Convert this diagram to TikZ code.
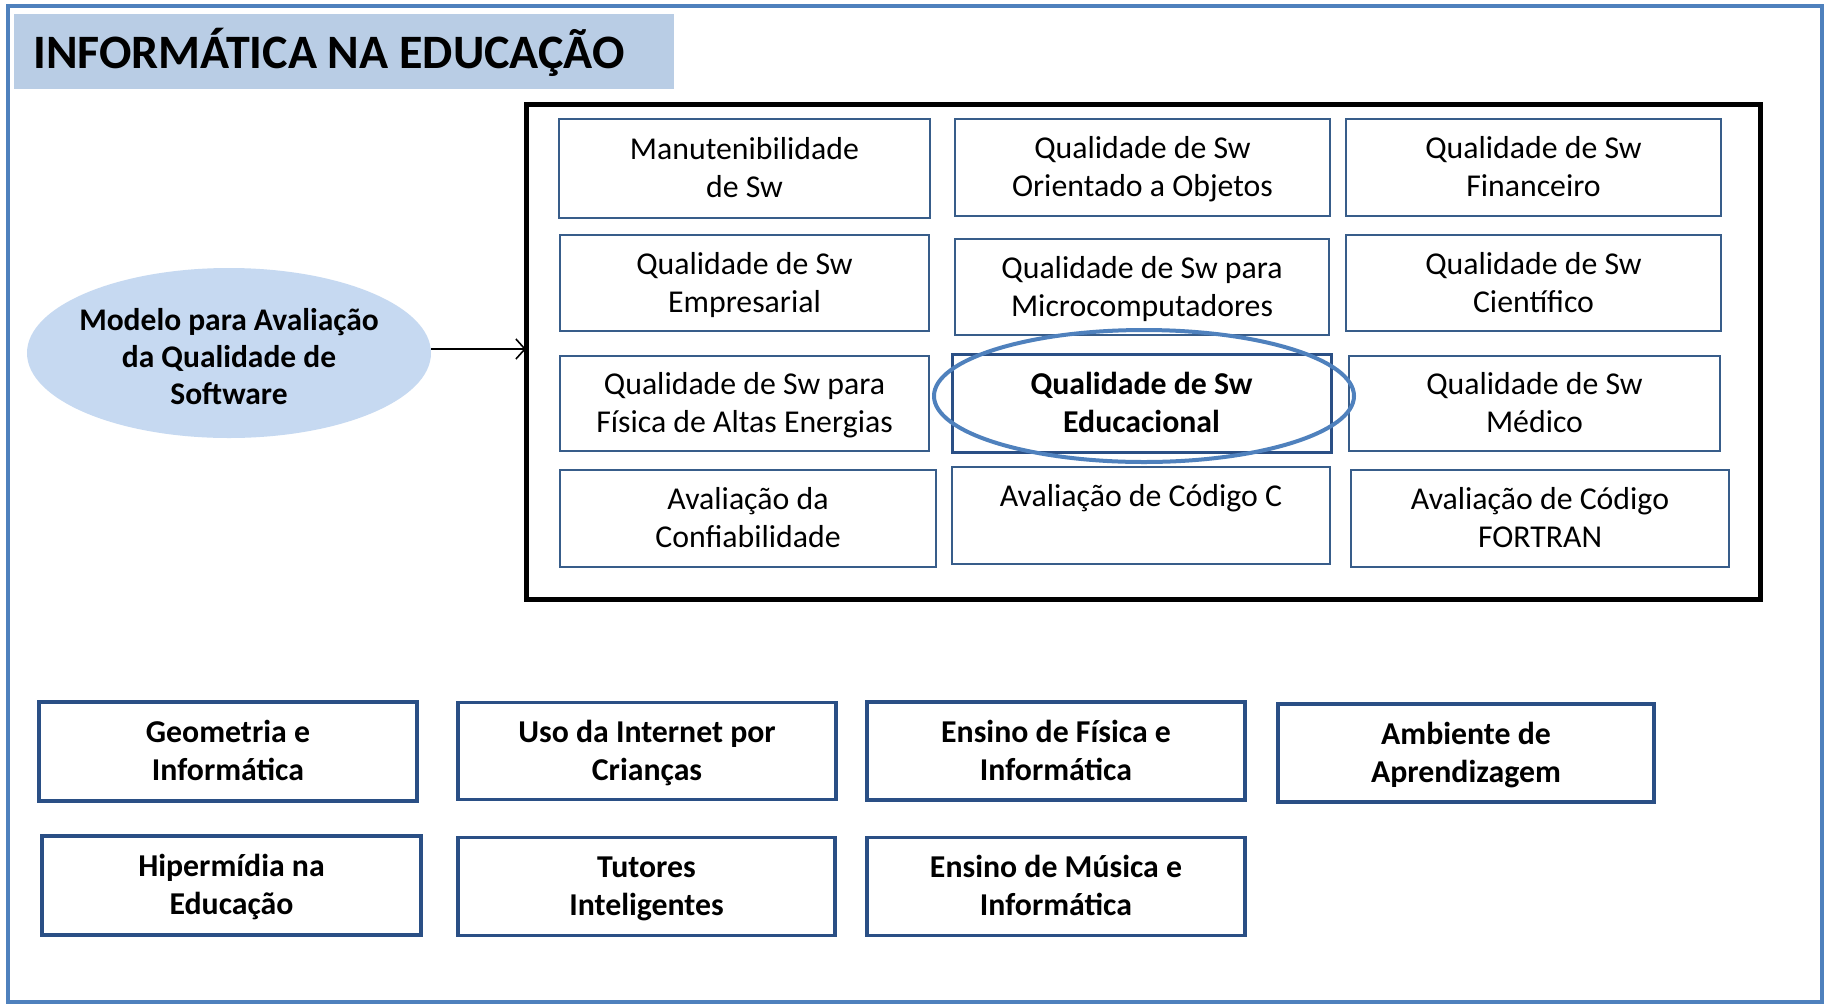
\documentclass[tikz,border=0pt]{standalone}
\usepackage{fontspec}
\setmainfont{Carlito}
\usetikzlibrary{arrows.meta,shapes.geometric}
\definecolor{frameblue}{HTML}{4F81BD}
\definecolor{bandblue}{HTML}{B9CDE5}
\definecolor{ellblue}{HTML}{C6D9F1}
\definecolor{gridline}{HTML}{385D8A}
\definecolor{darkline}{HTML}{2A4F85}
\newcommand\mystrut{\rule[-9pt]{0pt}{38pt}}
\newcommand\twolines[2]{\mystrut#1\\#2\mystrut}
\tikzset{
  boxtext/.style={inner sep=0pt, align=center},
  gbox/.style={boxtext, draw=gridline, line width=1.6pt, fill=white,
    font=\fontsize{31.8}{38}\selectfont},
  hbox/.style={boxtext, draw=darkline, line width=3pt, fill=white,
    font=\fontsize{31.8}{38}\selectfont\bfseries},
  bbox/.style={boxtext, draw=darkline, line width=3.5pt, fill=white,
    font=\fontsize{31.8}{38}\selectfont\bfseries},
}
\begin{document}
\begin{tikzpicture}[x=1pt,y=-1pt]
\useasboundingbox (0,0) rectangle (1828,1005);
\fill[white] (0,0) rectangle (1828,1005);
% outer frame
\draw[frameblue, line width=4pt] (8,6) rectangle (1822,1002);
% title band
\fill[bandblue] (14,14) rectangle (674,89);
\node[anchor=base west, inner sep=0pt, font=\fontsize{48}{58}\selectfont\bfseries] (title) at (33,68) {INFORMÁTICA NA EDUCAÇÃO};
% black container
\draw[black, line width=5pt] (526,104) rectangle (1760,599);
\coordinate (cont) at (526,349);
% model ellipse
\fill[ellblue] (229,353) ellipse [x radius=202, y radius=85];
\node[inner sep=0pt, align=center, font=\fontsize{31.5}{37}\selectfont\bfseries] (model) at (229,357)
  {Modelo para Avaliação\\da Qualidade de\\Software};
\coordinate (mright) at (431,349);
\draw[line width=1.6pt, -{Straight Barb[length=9pt,width=20pt]}] (mright) -- (cont);
% grid of boxes
\node[gbox, minimum width=371pt, minimum height=99pt] (m1) at (744.5,168.5) {\twolines{Manutenibilidade}{de Sw}};
\node[gbox, minimum width=375pt, minimum height=97pt] (m2) at (1142.5,167.5) {\twolines{Qualidade de Sw}{Orientado a Objetos}};
\node[gbox, minimum width=375pt, minimum height=97pt] (m3) at (1533.5,167.5) {\twolines{Qualidade de Sw}{Financeiro}};
\node[gbox, minimum width=369pt, minimum height=96pt] (e1) at (744.5,283) {\twolines{Qualidade de Sw}{Empresarial}};
\node[gbox, minimum width=374pt, minimum height=96pt] (e2) at (1142,287) {\twolines{Qualidade de Sw para}{Microcomputadores}};
\node[gbox, minimum width=375pt, minimum height=96pt] (e3) at (1533.5,283) {\twolines{Qualidade de Sw}{Científico}};
\node[gbox, minimum width=369pt, minimum height=95pt] (f1) at (744.5,403.5) {\twolines{Qualidade de Sw para}{Física de Altas Energias}};
\node[hbox, minimum width=379pt, minimum height=98pt] (f2) at (1141.5,403) {\twolines{Qualidade de Sw}{Educacional}};
\node[gbox, minimum width=371pt, minimum height=95pt] (f3) at (1534.5,403.5) {\twolines{Qualidade de Sw}{Médico}};
\node[gbox, minimum width=376pt, minimum height=97pt] (g1) at (748,518.5) {\twolines{Avaliação da}{Confiabilidade}};
\node[gbox, minimum width=378pt, minimum height=97pt] (g2) at (1141,515.5) {\twolines{Avaliação de Código C}{}};
\node[gbox, minimum width=378pt, minimum height=97pt] (g3) at (1540,518.5) {\twolines{Avaliação de Código}{FORTRAN}};
% highlight ellipse
\draw[frameblue, line width=4pt] (1144,396) ellipse [x radius=210, y radius=66];
% bottom boxes
\node[bbox, minimum width=378pt, minimum height=99pt] (b1) at (228,751.5) {\twolines{Geometria e}{Informática}};
\node[bbox, minimum width=378pt, minimum height=97pt] (b2) at (647,751) {\twolines{Uso da Internet por}{Crianças}};
\node[bbox, minimum width=378pt, minimum height=98pt] (b3) at (1056,751) {\twolines{Ensino de Física e}{Informática}};
\node[bbox, minimum width=376pt, minimum height=98pt] (b4) at (1466,753) {\twolines{Ambiente de}{Aprendizagem}};
\node[bbox, minimum width=379pt, minimum height=99pt] (c1) at (231.5,885.5) {\twolines{Hipermídia na}{Educação}};
\node[bbox, minimum width=377pt, minimum height=98pt] (c2) at (646.5,886.5) {\twolines{Tutores}{Inteligentes}};
\node[bbox, minimum width=378pt, minimum height=98pt] (c3) at (1056,886.5) {\twolines{Ensino de Música e}{Informática}};
\end{tikzpicture}
\end{document}
